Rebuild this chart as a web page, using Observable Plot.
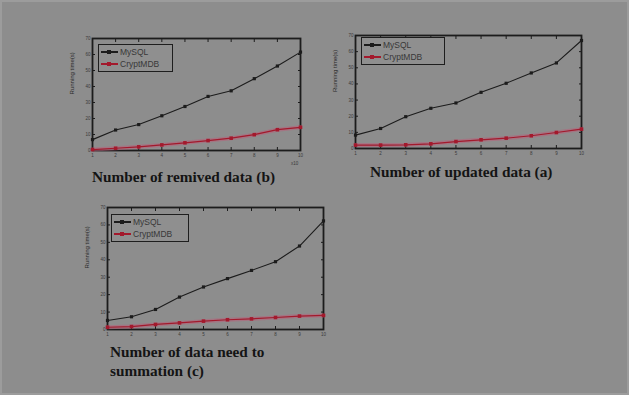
<!DOCTYPE html>
<html>
<head>
<meta charset="utf-8">
<script src="https://cdn.jsdelivr.net/npm/d3@7"></script>
<script src="https://cdn.jsdelivr.net/npm/@observablehq/plot@0.6"></script>
<style>
  html, body { margin: 0; padding: 0; background: #8e8e8e; }
  #page { position: relative; width: 629px; height: 395px; background: #8d8d8d; box-sizing: border-box; border: 2px solid #9c9c9c; overflow: hidden; }
  .panel { position: absolute; }
  .cap { position: absolute; font-family: "Liberation Serif", "Times New Roman", serif; font-weight: bold; font-size: 15.3px; color: #141414; line-height: 19px; white-space: nowrap; }
  .legend { position: absolute; border: 1.5px solid #1e1e1e; background: #8f8f8f; font-family: "Liberation Sans", Arial, sans-serif; font-size: 8.5px; color: #383838; box-sizing: border-box; padding: 1px 2px; }
  .legend .row { display: flex; align-items: center; height: 12px; }
  .legend .sw { position: relative; width: 17px; height: 8px; margin-right: 2px; flex: none; }
  .legend .sw .ln { position: absolute; left: 0; right: 0; top: 3px; height: 1.5px; }
  .legend .sw .mk { position: absolute; left: 6px; top: 2px; width: 4px; height: 4px; }
</style>
</head>
<body>
<div id="page"></div>
<script>
// ---- data ----
const xValues = [1, 2, 3, 4, 5, 6, 7, 8, 9, 10];
const yTicks = [0, 10, 20, 30, 40, 50, 60, 70];
const seriesNames = ["MySQL", "CryptMDB"];

// (b) removed data
const removedMySQL    = [6.8, 12.8, 16.2, 21.7, 27.5, 33.8, 37.3, 44.9, 52.8, 61.5];
const removedCryptMDB = [0.6, 1.4, 2.3, 3.5, 4.8, 6.2, 7.7, 9.9, 13.0, 14.5];
// (a) updated data
const updatedMySQL    = [8.3, 12.4, 19.7, 24.9, 28.2, 34.8, 40.4, 46.8, 53.0, 66.9];
const updatedCryptMDB = [2.1, 2.1, 2.3, 2.9, 4.3, 5.4, 6.4, 7.9, 9.9, 12.0];
// (c) summation
const sumMySQL        = [5.2, 7.3, 11.5, 18.6, 24.4, 29.2, 33.9, 38.9, 47.9, 62.3];
const sumCryptMDB     = [1.3, 1.7, 2.9, 3.8, 4.8, 5.6, 6.1, 6.9, 7.7, 8.1];

const captions = {
  b: ["Number of remived data (b)"],
  a: ["Number of updated data (a)"],
  c: ["Number of data need to", "summation (c)"]
};
const yLabel = "Running time(s)";

// ---- layout ----
const panels = [
  {key: "b", mysql: removedMySQL, crypt: removedCryptMDB, left: 60, top: 30, width: 245, height: 135, mt: 6, mb: 17, ml: 30, mr: 7,
   legend: {left: 96, top: 42, w: 75, h: 28}, cap: {left: 90, top: 165}, mult: "x10"},
  {key: "a", mysql: updatedMySQL, crypt: updatedCryptMDB, left: 323, top: 27, width: 262, height: 135, mt: 6, mb: 16, ml: 30, mr: 6,
   legend: {left: 359, top: 35, w: 84, h: 28}, cap: {left: 368, top: 160}},
  {key: "c", mysql: sumMySQL, crypt: sumCryptMDB, left: 75, top: 199, width: 252, height: 145, mt: 6, mb: 17, ml: 30, mr: 6,
   legend: {left: 109, top: 212, w: 78, h: 28}, cap: {left: 108, top: 340}}
];

const page = document.getElementById("page");
const black = "#1c1c1c";
const red = "#a3192c";

for (const p of panels) {
  const rows = [];
  xValues.forEach((x, i) => {
    rows.push({x, y: p.mysql[i], s: seriesNames[0]});
    rows.push({x, y: p.crypt[i], s: seriesNames[1]});
  });
  const my = rows.filter(d => d.s === "MySQL");
  const cr = rows.filter(d => d.s === "CryptMDB");
  const chart = Plot.plot({
    width: p.width, height: p.height,
    marginTop: p.mt, marginBottom: p.mb, marginLeft: p.ml, marginRight: p.mr,
    style: {background: "transparent", fontFamily: "Liberation Sans, Arial, sans-serif", fontSize: "4.5px", color: "#3a3a3a", overflow: "visible"},
    x: {domain: [1, 10], ticks: xValues, label: null},
    y: {domain: [0, 70], ticks: yTicks, label: null},
    marks: [
      Plot.axisX({ticks: xValues, tickSize: -3, tickPadding: 6, fontSize: 4.5, stroke: black}),
      Plot.axisX({ticks: xValues, anchor: "top", tickSize: -3, tickFormat: () => "", stroke: black}),
      Plot.axisY({ticks: yTicks, tickSize: -3, tickPadding: 5, fontSize: 4.5, stroke: black}),
      Plot.axisY({ticks: yTicks, anchor: "right", tickSize: -3, tickFormat: () => "", stroke: black}),
      Plot.frame({stroke: black, strokeWidth: 1.8}),
      Plot.line(cr, {x: "x", y: "y", stroke: "#b8607a", strokeWidth: 4, strokeOpacity: 0.55}),
      Plot.line(cr, {x: "x", y: "y", stroke: red, strokeWidth: 1.2}),
      Plot.dot(cr, {x: "x", y: "y", fill: red, r: 2, symbol: "square"}),
      Plot.line(my, {x: "x", y: "y", stroke: black, strokeWidth: 1.1}),
      Plot.dot(my, {x: "x", y: "y", fill: black, r: 1.8, symbol: "square"}),
      Plot.text([yLabel], {frameAnchor: "left", dx: -20, rotate: -90, fontSize: 6, fill: "#2a2a2a", text: d => d})
    ]
  });
  chart.classList.add("panel");
  chart.style.left = p.left + "px";
  chart.style.top = p.top + "px";
  page.appendChild(chart);

  if (p.mult) {
    const m = document.createElement("div");
    m.textContent = p.mult;
    m.style.cssText = `position:absolute;left:${p.left + p.width - 16}px;top:${p.top + p.height - 6}px;font:4.5px 'Liberation Sans',Arial,sans-serif;color:#3a3a3a;`;
    page.appendChild(m);
  }

  // legend
  const lg = document.createElement("div");
  lg.className = "legend";
  lg.style.left = p.legend.left + "px";
  lg.style.top = p.legend.top + "px";
  lg.style.width = p.legend.w + "px";
  lg.style.height = p.legend.h + "px";
  [[seriesNames[0], black], [seriesNames[1], red]].forEach(([name, col]) => {
    const r = document.createElement("div");
    r.className = "row";
    r.innerHTML = `<div class="sw"><div class="ln" style="background:${col}"></div><div class="mk" style="background:${col}"></div></div><span>${name}</span>`;
    lg.appendChild(r);
  });
  page.appendChild(lg);

  // caption
  const c = document.createElement("div");
  c.className = "cap";
  c.style.left = p.cap.left + "px";
  c.style.top = p.cap.top + "px";
  c.innerHTML = captions[p.key].join("<br>");
  page.appendChild(c);
}
</script>
</body>
</html>
